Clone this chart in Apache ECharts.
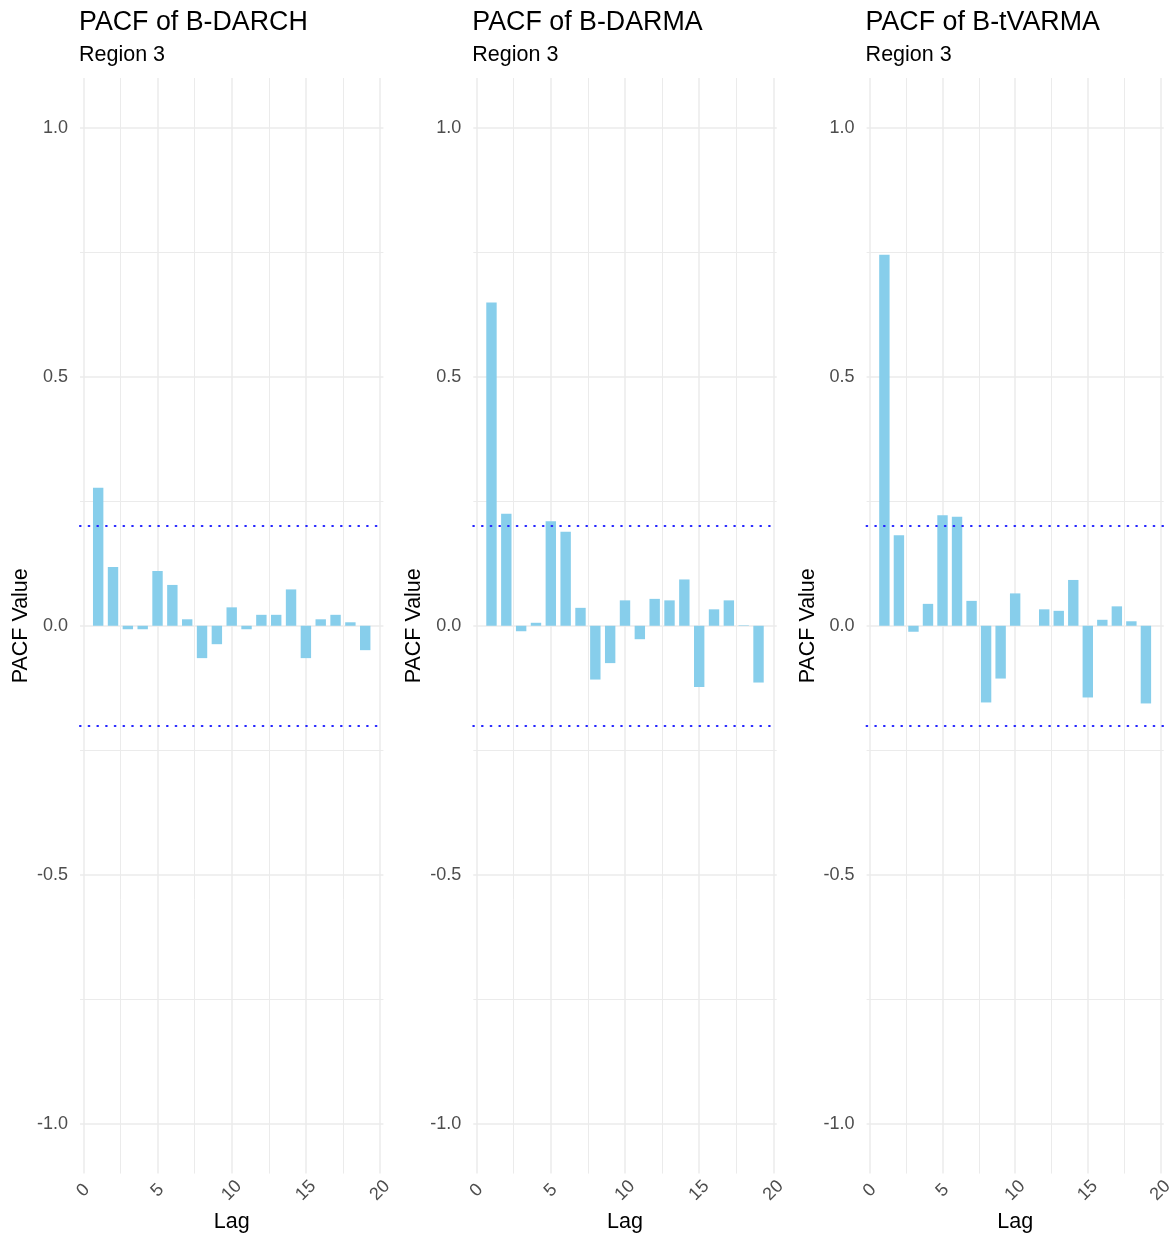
<!DOCTYPE html>
<html>
<head>
<meta charset="utf-8">
<title>PACF by model – Region 3</title>
<script src="https://cdn.jsdelivr.net/npm/echarts@6/dist/echarts.min.js"></script>
<style>
  html, body { margin: 0; padding: 0; background: #ffffff; }
  #chart { width: 1176px; height: 1238px; }
</style>
</head>
<body>
<div id="chart"></div>
<script>
// Lags shown on every panel
const lags = [1, 2, 3, 4, 5, 6, 7, 8, 9, 10, 11, 12, 13, 14, 15, 16, 17, 18, 19];

// Partial autocorrelations of residuals, one array per model
const darchPacf  = [0.277, 0.118, -0.007, -0.007, 0.110, 0.082, 0.013, -0.065, -0.037, 0.037,
                    -0.007, 0.022, 0.022, 0.073, -0.065, 0.013, 0.022, 0.007, -0.049];
const darmaPacf  = [0.649, 0.225, -0.011, 0.006, 0.210, 0.189, 0.036, -0.108, -0.075, 0.051,
                    -0.027, 0.054, 0.051, 0.093, -0.123, 0.033, 0.051, 0.001, -0.114];
const tvarmaPacf = [0.745, 0.182, -0.012, 0.044, 0.222, 0.219, 0.050, -0.154, -0.106, 0.065,
                    0.000, 0.033, 0.030, 0.092, -0.144, 0.012, 0.039, 0.009, -0.156];

// Approximate 95% significance bound
const confBound = 0.2;

// Panel titles
const panelTitles = ['PACF of B-DARCH', 'PACF of B-DARMA', 'PACF of B-tVARMA'];
const panelSubtitle = 'Region 3';

// Tick positions
const xMajorTicks = [0, 5, 10, 15, 20];
const xMinorTicks = [2.5, 7.5, 12.5, 17.5];
const yMajorTicks = [-1, -0.5, 0, 0.5, 1];
const yMinorTicks = [-0.75, -0.25, 0.25, 0.75];

const panels = [darchPacf, darmaPacf, tvarmaPacf];

// Layout
const FONT = '"Liberation Sans", Arial, Helvetica, sans-serif';
const panelLeft = [80, 473.3, 866.6];
const panelWidth = 303.4;
const panelTop = 78;
const panelHeight = 1097;
const xRange = [-0.225, 20.225];
const yRange = [-1.1, 1.1];
const gridColor = '#EBEBEB';

const grids = [], xAxes = [], yAxes = [], series = [], titles = [];

panels.forEach(function (vals, i) {
  grids.push({ left: panelLeft[i], top: panelTop, width: panelWidth, height: panelHeight, containLabel: false });

  titles.push({
    text: panelTitles[i],
    subtext: panelSubtitle,
    left: panelLeft[i] - 1,
    top: 9,
    padding: 0,
    itemGap: 8,
    textStyle: { fontFamily: FONT, fontSize: 26.8, fontWeight: 'normal', color: '#000000' },
    subtextStyle: { fontFamily: FONT, fontSize: 21.5, color: '#000000' }
  });

  // Major x axis: labels, title and major grid lines
  xAxes.push({
    type: 'value', gridIndex: i, min: xRange[0], max: xRange[1],
    name: 'Lag', nameLocation: 'middle', nameGap: 37,
    nameTextStyle: { fontFamily: FONT, fontSize: 21.5, color: '#000000' },
    axisLine: { show: false },
    axisTick: { show: false, customValues: xMajorTicks },
    axisLabel: {
      customValues: xMajorTicks, rotate: 45, margin: 17,
      align: 'center', verticalAlign: 'middle',
      fontFamily: FONT, fontSize: 18, color: '#4D4D4D'
    },
    splitLine: { show: true, lineStyle: { color: gridColor, width: 1.5 } }
  });
  // Minor x axis: minor grid lines only
  xAxes.push({
    type: 'value', gridIndex: i, min: xRange[0], max: xRange[1],
    axisLine: { show: false },
    axisTick: { show: false, customValues: xMinorTicks },
    axisLabel: { show: false, customValues: xMinorTicks },
    splitLine: { show: true, lineStyle: { color: gridColor, width: 1 } }
  });

  yAxes.push({
    type: 'value', gridIndex: i, min: yRange[0], max: yRange[1],
    name: 'PACF Value', nameLocation: 'middle', nameGap: 48,
    nameTextStyle: { fontFamily: FONT, fontSize: 21.5, color: '#000000' },
    axisLine: { show: false },
    axisTick: { show: false, customValues: yMajorTicks },
    axisLabel: {
      customValues: yMajorTicks, margin: 12,
      fontFamily: FONT, fontSize: 18, color: '#4D4D4D',
      formatter: function (v) { return v.toFixed(1); }
    },
    splitLine: { show: true, lineStyle: { color: gridColor, width: 1.5 } }
  });
  yAxes.push({
    type: 'value', gridIndex: i, min: yRange[0], max: yRange[1],
    axisLine: { show: false },
    axisTick: { show: false, customValues: yMinorTicks },
    axisLabel: { show: false, customValues: yMinorTicks },
    splitLine: { show: true, lineStyle: { color: gridColor, width: 1 } }
  });

  series.push({
    type: 'bar',
    name: panelTitles[i],
    xAxisIndex: 2 * i,
    yAxisIndex: 2 * i,
    barWidth: 10.4,
    itemStyle: { color: '#87CEEB' },
    data: lags.map(function (lag, k) { return [lag, vals[k]]; }),
    markLine: {
      silent: true,
      symbol: 'none',
      label: { show: false },
      lineStyle: { color: '#2424ff', type: [0.6, 8.1], width: 2.2, opacity: 1, cap: 'round' },
      data: [{ yAxis: confBound }, { yAxis: -confBound }],
      animation: false
    }
  });
});

const chart = echarts.init(document.getElementById('chart'), null, { renderer: 'canvas' });
chart.setOption({
  backgroundColor: '#ffffff',
  animation: false,
  title: titles,
  grid: grids,
  xAxis: xAxes,
  yAxis: yAxes,
  series: series
});
</script>
</body>
</html>
